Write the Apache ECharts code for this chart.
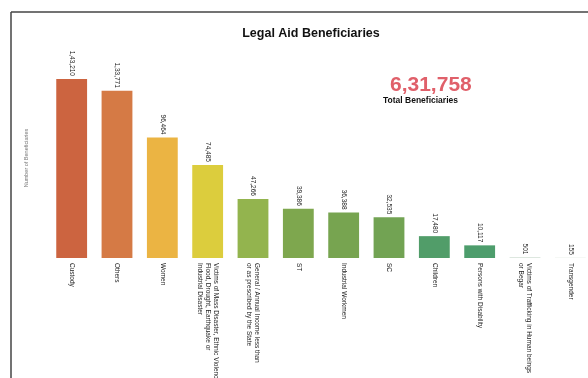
<!DOCTYPE html>
<html><head><meta charset="utf-8">
<script src="https://cdn.jsdelivr.net/npm/echarts@6/dist/echarts.min.js"></script>
<style>html,body{margin:0;padding:0;background:#fff}#c{width:588px;height:378px}</style>
</head><body><div id="c"></div>
<script>
const categories = [
  "Custody",
  "Others",
  "Women",
  "Victims of Mass Disaster, Ethnic Violence,\nFlood, Drought, Earthquake or\nIndustrial Disaster",
  "General / Annual Income less than\nor as prescribed by the State",
  "ST",
  "Industrial Workmen",
  "SC",
  "Children",
  "Persons with Disability",
  "Victims of Trafficking in Human beings\nor Begar",
  "Transgender"
];
const values = [143210, 133771, 96464, 74485, 47266, 39386, 36388, 32535, 17480, 10117, 501, 155];
const valueLabels = ["1,43,210","1,33,771","96,464","74,485","47,266","39,386","36,388","32,535","17,480","10,117","501","155"];
const barColors = ["#cc6440","#d57a45","#ebb443","#dccd3d","#93b44e","#7ea74e","#77a450","#72a353","#519d69","#4d9d6c","#c9d9cc","#c9d9cc"];
const totalLabel = "6,31,758";

const chart = echarts.init(document.getElementById('c'), null, {renderer:'canvas'});
const FONT = "Liberation Sans, Arial, sans-serif";
chart.setOption({
  animation:false,
  backgroundColor:'#ffffff',
  title:{text:'Legal Aid Beneficiaries', left:306, top:22, textAlign:'center',
    textStyle:{fontFamily:FONT, fontSize:12.5, fontWeight:'bold', color:'#111'}},
  grid:{left:49, top:58, width:544, height:200, containLabel:false, outerBoundsMode:'none'},
  xAxis:{type:'category', data:categories,
    axisLine:{show:false}, axisTick:{show:false},
    axisLabel:{rotate:-90, interval:0, fontFamily:FONT, fontSize:6.5, color:'#222', margin:5, lineHeight:8}},
  yAxis:{type:'value', min:0, max:160000,
    name:'Number of Beneficiaries', nameLocation:'middle', nameGap:20,
    nameTextStyle:{fontFamily:FONT, fontSize:5.5, color:'#777'},
    axisLine:{show:false}, axisTick:{show:false}, axisLabel:{show:false}, splitLine:{show:false}},
  series:[{type:'bar', barWidth:'68%',
    data: values.map((v,i)=>({value:v, itemStyle:{color:barColors[i]}})),
    label:{show:true, position:'top', rotate:-90, align:'right', verticalAlign:'middle', distance:3,
      fontFamily:FONT, fontSize:6.5, color:'#222',
      formatter:(p)=>valueLabels[p.dataIndex]}
  }],
  graphic:[
    {type:'line', shape:{x1:11, y1:12, x2:588, y2:12}, style:{stroke:'#444', lineWidth:1.5}},
    {type:'line', shape:{x1:11, y1:12, x2:11, y2:378}, style:{stroke:'#444', lineWidth:1.5}},
    {type:'text', left:390, top:75, style:{text:totalLabel, fontFamily:FONT, fontSize:21, fontWeight:'bold', fill:'#e0606a'}},
    {type:'text', left:383, top:96, style:{text:'Total Beneficiaries', fontFamily:FONT, fontSize:8.5, fontWeight:'bold', fill:'#111'}}
  ]
});
</script></body></html>
